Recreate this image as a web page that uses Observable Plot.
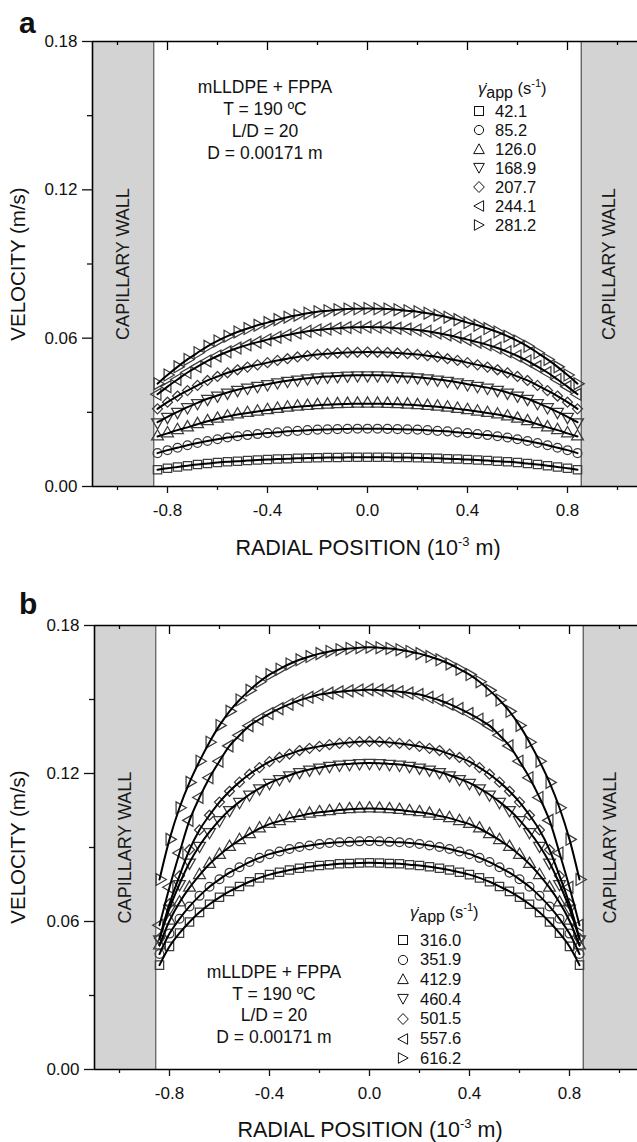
<!DOCTYPE html>
<html><head><meta charset="utf-8">
<script src="https://cdn.jsdelivr.net/npm/d3@7"></script>
<script src="https://cdn.jsdelivr.net/npm/@observablehq/plot@0.6"></script>
<style>
html,body{margin:0;padding:0;background:#fff;overflow:hidden;}
body{font-family:"Liberation Sans",Arial,sans-serif;color:#111;}
.panel{position:relative;width:637px;overflow:hidden;}
.panel > svg{position:absolute;left:0;top:0;}
.abs{position:absolute;white-space:nowrap;line-height:1;}
.note{position:absolute;white-space:nowrap;text-align:center;transform:translateX(-50%);font-size:17.5px;}
.row{position:absolute;height:19px;display:flex;align-items:center;font-size:16.5px;white-space:nowrap;}
.row svg{flex:none;display:block;}
.ttl{position:absolute;white-space:nowrap;font-size:16.5px;line-height:1;}
.ttl sub{font-size:16px;vertical-align:-4px;line-height:0;}
.ttl sup{font-size:11px;vertical-align:7px;line-height:0;}
.axt{position:absolute;white-space:nowrap;font-size:21.5px;line-height:1;}
.axt sup{font-size:13px;vertical-align:9px;line-height:0;}
.axy{font-size:20.5px;}
</style></head><body>
<div id="pa" class="panel" style="height:582px"></div>
<div id="pb" class="panel" style="height:560px"></div>
<script>
// ---------------- data ----------------
const radialPos = [-0.84,-0.80,-0.76,-0.72,-0.68,-0.64,-0.60,-0.56,-0.52,-0.48,-0.44,-0.40,-0.36,-0.32,-0.28,-0.24,-0.20,-0.16,-0.12,-0.08,-0.04,0,0.04,0.08,0.12,0.16,0.20,0.24,0.28,0.32,0.36,0.40,0.44,0.48,0.52,0.56,0.60,0.64,0.68,0.72,0.76,0.80,0.84];

// panel a velocities (m/s)
const a_42_1 = [0.0068,0.0074,0.0079,0.0084,0.0089,0.0093,0.0097,0.0100,0.0102,0.0105,0.0107,0.0109,0.0111,0.0112,0.0114,0.0115,0.0116,0.0117,0.0117,0.0118,0.0118,0.0118,0.0118,0.0118,0.0117,0.0117,0.0116,0.0115,0.0114,0.0112,0.0111,0.0109,0.0107,0.0105,0.0102,0.0100,0.0097,0.0093,0.0089,0.0084,0.0079,0.0074,0.0068];
const a_85_2 = [0.0135,0.0147,0.0157,0.0167,0.0176,0.0184,0.0191,0.0198,0.0203,0.0208,0.0212,0.0216,0.0219,0.0223,0.0225,0.0228,0.0230,0.0231,0.0232,0.0233,0.0234,0.0234,0.0234,0.0233,0.0232,0.0231,0.0230,0.0228,0.0225,0.0223,0.0219,0.0216,0.0212,0.0208,0.0203,0.0198,0.0191,0.0184,0.0176,0.0167,0.0157,0.0147,0.0135];
const a_126_0 = [0.0202,0.0215,0.0228,0.0239,0.0252,0.0264,0.0274,0.0283,0.0291,0.0297,0.0303,0.0309,0.0314,0.0319,0.0323,0.0326,0.0329,0.0331,0.0333,0.0334,0.0335,0.0335,0.0335,0.0334,0.0333,0.0331,0.0329,0.0326,0.0323,0.0319,0.0314,0.0309,0.0303,0.0297,0.0291,0.0283,0.0274,0.0264,0.0252,0.0239,0.0228,0.0215,0.0202];
const a_168_9 = [0.0260,0.0282,0.0302,0.0321,0.0338,0.0355,0.0368,0.0380,0.0391,0.0400,0.0407,0.0414,0.0422,0.0428,0.0433,0.0438,0.0442,0.0445,0.0447,0.0449,0.0450,0.0450,0.0450,0.0449,0.0447,0.0445,0.0442,0.0438,0.0433,0.0428,0.0422,0.0414,0.0407,0.0400,0.0391,0.0380,0.0368,0.0355,0.0338,0.0321,0.0302,0.0282,0.0260];
const a_207_7 = [0.0314,0.0341,0.0366,0.0388,0.0409,0.0429,0.0445,0.0460,0.0472,0.0483,0.0492,0.0501,0.0510,0.0517,0.0524,0.0529,0.0534,0.0537,0.0540,0.0542,0.0543,0.0544,0.0543,0.0542,0.0540,0.0537,0.0534,0.0529,0.0524,0.0517,0.0510,0.0501,0.0492,0.0483,0.0472,0.0460,0.0445,0.0429,0.0409,0.0388,0.0366,0.0341,0.0314];
const a_244_1 = [0.0373,0.0404,0.0433,0.0461,0.0485,0.0508,0.0528,0.0545,0.0560,0.0573,0.0584,0.0594,0.0604,0.0613,0.0621,0.0628,0.0633,0.0637,0.0640,0.0643,0.0644,0.0645,0.0644,0.0643,0.0640,0.0637,0.0633,0.0628,0.0621,0.0613,0.0604,0.0594,0.0584,0.0573,0.0560,0.0545,0.0528,0.0508,0.0485,0.0461,0.0433,0.0404,0.0373];
const a_281_2 = [0.0416,0.0451,0.0484,0.0514,0.0541,0.0567,0.0589,0.0608,0.0625,0.0639,0.0652,0.0663,0.0675,0.0685,0.0693,0.0701,0.0707,0.0711,0.0715,0.0718,0.0719,0.0720,0.0719,0.0718,0.0715,0.0711,0.0707,0.0701,0.0693,0.0685,0.0675,0.0663,0.0652,0.0639,0.0625,0.0608,0.0589,0.0567,0.0541,0.0514,0.0484,0.0451,0.0416];

// panel b velocities (m/s)
const b_316_0 = [0.0423,0.0499,0.0553,0.0598,0.0637,0.0670,0.0698,0.0722,0.0742,0.0761,0.0777,0.0790,0.0800,0.0809,0.0816,0.0822,0.0827,0.0830,0.0834,0.0835,0.0837,0.0838,0.0837,0.0835,0.0834,0.0830,0.0827,0.0822,0.0816,0.0809,0.0800,0.0790,0.0777,0.0761,0.0742,0.0722,0.0698,0.0670,0.0637,0.0598,0.0553,0.0499,0.0423];
const b_351_9 = [0.0468,0.0551,0.0611,0.0661,0.0704,0.0741,0.0771,0.0798,0.0820,0.0841,0.0858,0.0873,0.0884,0.0894,0.0902,0.0908,0.0914,0.0918,0.0921,0.0923,0.0925,0.0926,0.0925,0.0923,0.0921,0.0918,0.0914,0.0908,0.0902,0.0894,0.0884,0.0873,0.0858,0.0841,0.0820,0.0798,0.0771,0.0741,0.0704,0.0661,0.0611,0.0551,0.0468];
const b_412_9 = [0.0503,0.0603,0.0677,0.0737,0.0788,0.0833,0.0870,0.0902,0.0930,0.0954,0.0977,0.0995,0.1007,0.1019,0.1028,0.1037,0.1043,0.1047,0.1052,0.1055,0.1057,0.1058,0.1057,0.1055,0.1052,0.1047,0.1043,0.1037,0.1028,0.1019,0.1007,0.0995,0.0977,0.0954,0.0930,0.0902,0.0870,0.0833,0.0788,0.0737,0.0677,0.0603,0.0503];
const b_460_4 = [0.0528,0.0653,0.0752,0.0839,0.0907,0.0963,0.1011,0.1052,0.1085,0.1115,0.1140,0.1162,0.1178,0.1193,0.1206,0.1216,0.1224,0.1231,0.1236,0.1239,0.1242,0.1243,0.1242,0.1239,0.1236,0.1231,0.1224,0.1216,0.1206,0.1193,0.1178,0.1162,0.1140,0.1115,0.1085,0.1052,0.1011,0.0963,0.0907,0.0839,0.0752,0.0653,0.0528];
const b_501_5 = [0.0532,0.0672,0.0785,0.0891,0.0971,0.1031,0.1084,0.1128,0.1165,0.1197,0.1224,0.1248,0.1265,0.1279,0.1293,0.1302,0.1310,0.1317,0.1322,0.1326,0.1329,0.1330,0.1329,0.1326,0.1322,0.1317,0.1310,0.1302,0.1293,0.1279,0.1265,0.1248,0.1224,0.1197,0.1165,0.1128,0.1084,0.1031,0.0971,0.0891,0.0785,0.0672,0.0532];
const b_557_6 = [0.0585,0.0739,0.0878,0.1010,0.1103,0.1183,0.1250,0.1312,0.1355,0.1394,0.1420,0.1443,0.1463,0.1481,0.1497,0.1509,0.1520,0.1526,0.1531,0.1535,0.1538,0.1540,0.1538,0.1535,0.1531,0.1526,0.1520,0.1509,0.1497,0.1481,0.1463,0.1443,0.1420,0.1394,0.1355,0.1312,0.1250,0.1183,0.1103,0.1010,0.0878,0.0739,0.0585];
const b_616_2 = [0.0770,0.0933,0.1061,0.1164,0.1250,0.1327,0.1395,0.1452,0.1498,0.1537,0.1572,0.1601,0.1623,0.1644,0.1661,0.1674,0.1686,0.1695,0.1702,0.1707,0.1710,0.1712,0.1710,0.1707,0.1702,0.1695,0.1686,0.1674,0.1661,0.1644,0.1623,0.1601,0.1572,0.1537,0.1498,0.1452,0.1395,0.1327,0.1250,0.1164,0.1061,0.0933,0.0770];

const ratesA = ["42.1","85.2","126.0","168.9","207.7","244.1","281.2"];
const ratesB = ["316.0","351.9","412.9","460.4","501.5","557.6","616.2"];
const seriesA = [a_42_1,a_85_2,a_126_0,a_168_9,a_207_7,a_244_1,a_281_2];
const seriesB = [b_316_0,b_351_9,b_412_9,b_460_4,b_501_5,b_557_6,b_616_2];

const wallRadius = 0.855;            // capillary radius, 10^-3 m
const xDomainA = [-1.1, 1.08];
const xDomainB = [-1.1, 1.072];
const yDomain = [0, 0.18];
const xMajorTicks = [-0.8,-0.4,0,0.4,0.8];
const xMinorTicks = [-1.0,-0.6,-0.2,0.2,0.6,1.0];
const yMajorTicks = [0,0.06,0.12,0.18];
const yMinorTicks = [0.03,0.09,0.15];
const noteLines = ["mLLDPE + FPPA","T = 190 ºC","L/D = 20","D = 0.00171 m"];

// ---------------- symbols ----------------
const S3 = Math.sqrt(3);
function triangle(map){
  return {draw(ctx, size){
    const y = -Math.sqrt(size/(S3*3));
    const p = [[0,2*y],[-S3*y,-y],[S3*y,-y]].map(map);
    ctx.moveTo(p[0][0],p[0][1]); ctx.lineTo(p[1][0],p[1][1]); ctx.lineTo(p[2][0],p[2][1]); ctx.closePath();
  }};
}
const triUp = triangle(p=>p);
const triDown = triangle(p=>[p[0],-p[1]]);
const triLeft = triangle(p=>[p[1],p[0]]);
const triRight = triangle(p=>[-p[1],p[0]]);
const plotSymbols = ["square","circle",triUp,triDown,"diamond2",triLeft,triRight];
const symbolR = [4.7,4.4,4.4,4.4,4.5,4.4,4.4];
const legendPaths = [
  '<rect x="1.5" y="1.5" width="9" height="9"/>',
  '<circle cx="6" cy="6" r="4.6"/>',
  '<path d="M6 0.8 L11.3 10.6 L0.7 10.6 Z"/>',
  '<path d="M6 11.2 L11.3 1.4 L0.7 1.4 Z"/>',
  '<path d="M6 0.5 L11.3 6 L6 11.5 L0.7 6 Z"/>',
  '<path d="M0.8 6 L10.6 0.7 L10.6 11.3 Z"/>',
  '<path d="M11.2 6 L1.4 0.7 L1.4 11.3 Z"/>'
];

const FONT = '"Liberation Sans", Arial, sans-serif';

function makePlot({series, xDomain, height, marginTop, marginBottom, marginLeft}){
  const innerH = height - marginTop - marginBottom;
  const walls = [{x1: xDomain[0], x2: -wallRadius, xm: (xDomain[0]-wallRadius)/2},
                 {x1: wallRadius, x2: xDomain[1], xm: (xDomain[1]+wallRadius)/2}];
  const marks = [
    Plot.rect(walls, {x1:"x1", x2:"x2", y1: yDomain[0], y2: yDomain[1], fill:"#d3d3d3"}),
    Plot.ruleX([-wallRadius, wallRadius], {stroke:"#555", strokeWidth:1.2}),
    Plot.text(walls, {x:"xm", y: (yDomain[0]+yDomain[1])/2, text: ()=>"CAPILLARY WALL", rotate:-90, fontSize:18, fill:"#1a1a1a"})
  ];
  series.forEach((vals, k) => {
    const rows = radialPos.map((r,i)=>({r, v: vals[i]}));
    marks.push(Plot.dot(rows, {x:"r", y:"v", symbol: plotSymbols[k], r: symbolR[k], stroke:"#3c3c3c", strokeWidth:1.25, fill:"none"}));
  });
  series.forEach((vals) => {
    const rows = radialPos.map((r,i)=>({r, v: vals[i]}));
    marks.push(Plot.line(rows, {x:"r", y:"v", curve:"catmull-rom", stroke:"#000", strokeWidth:2}));
  });
  marks.push(
    Plot.tickX(xMajorTicks, {x:d=>d, insetBottom: innerH-9, stroke:"#000", strokeWidth:1.3}),
    Plot.tickX(xMinorTicks, {x:d=>d, insetBottom: innerH-4, stroke:"#000", strokeWidth:1.3}),
    Plot.ruleY([yDomain[0], yDomain[1]], {stroke:"#000", strokeWidth:1.6}),
    Plot.ruleX([xDomain[0]], {stroke:"#000", strokeWidth:1.6}),
    Plot.axisX({anchor:"bottom", ticks: xMajorTicks, tickSize:7, tickPadding:10, tickFormat: d=>d.toFixed(1), label:null, fontSize:17, strokeWidth:1.3}),
    Plot.axisX({anchor:"bottom", ticks: xMinorTicks, tickSize:4, tickFormat: ()=>"", label:null, strokeWidth:1.3}),
    Plot.axisY({anchor:"left", ticks: yMajorTicks, tickSize:10, tickPadding:5, tickFormat: d=>d.toFixed(2), label:null, fontSize:17, strokeWidth:1.3}),
    Plot.axisY({anchor:"left", ticks: yMinorTicks, tickSize:5, tickFormat: ()=>"", label:null, strokeWidth:1.3})
  );
  return Plot.plot({
    width: 637, height, marginTop, marginBottom, marginLeft, marginRight: 0,
    x: {domain: xDomain}, y: {domain: yDomain},
    style: {fontFamily: FONT, fontSize: "17px", color: "#111", background: "transparent", overflow: "hidden"},
    marks
  });
}

function addOverlay(el, o){
  const html = [];
  html.push(`<div class="abs" style="left:${o.letterX}px;top:${o.letterTop}px;font-size:30px;font-weight:bold">${o.letter}</div>`);
  html.push(`<div class="note" style="left:${o.noteX}px;top:${o.noteTop}px;line-height:${o.noteLH}px">${noteLines.join("<br>")}</div>`);
  html.push(`<div class="ttl" style="left:${o.legX}px;top:${o.legTitleTop}px"><i>γ̇</i><sub>app</sub> (s<sup>-1</sup>)</div>`);
  o.rates.forEach((t,i)=>{
    const top = o.rowTop + i*o.rowStep - 9.5;
    html.push(`<div class="row" style="left:${o.symX-6}px;top:${top}px"><svg width="12" height="12" style="overflow:visible" fill="none" stroke="#111" stroke-width="1">${legendPaths[i]}</svg><span style="margin-left:${o.textX-o.symX-6}px">${t}</span></div>`);
  });
  html.push(`<div class="axt" style="left:${o.xTitleX}px;top:${o.xTitleTop}px;transform:translateX(-50%)">RADIAL POSITION (10<sup>-3</sup> m)</div>`);
  html.push(`<div class="axt axy" style="left:18px;top:${o.yTitleY}px;transform:translate(-50%,-50%) rotate(-90deg)">VELOCITY (m/s)</div>`);
  el.insertAdjacentHTML("beforeend", html.join(""));
}

const pa = document.getElementById("pa");
pa.appendChild(makePlot({series: seriesA, xDomain: xDomainA, height: 582, marginTop: 41, marginBottom: 96, marginLeft: 92}));
addOverlay(pa, {letter:"a", letterX:19, letterTop:8, noteX:265, noteTop:76, noteLH:22,
  legX:478, legTitleTop:80, rates: ratesA, rowTop:111, rowStep:19, symX:479, textX:495,
  xTitleX:368, xTitleTop:538, yTitleY:264});

const pb = document.getElementById("pb");
pb.appendChild(makePlot({series: seriesB, xDomain: xDomainB, height: 560, marginTop: 43, marginBottom: 73, marginLeft: 94}));
addOverlay(pb, {letter:"b", letterX:19, letterTop:7, noteX:274, noteTop:380, noteLH:21.7,
  legX:410, legTitleTop:322, rates: ratesB, rowTop:358, rowStep:19.7, symX:403, textX:420,
  xTitleX:370, xTitleTop:538, yTitleY:265});
</script>
</body></html>
